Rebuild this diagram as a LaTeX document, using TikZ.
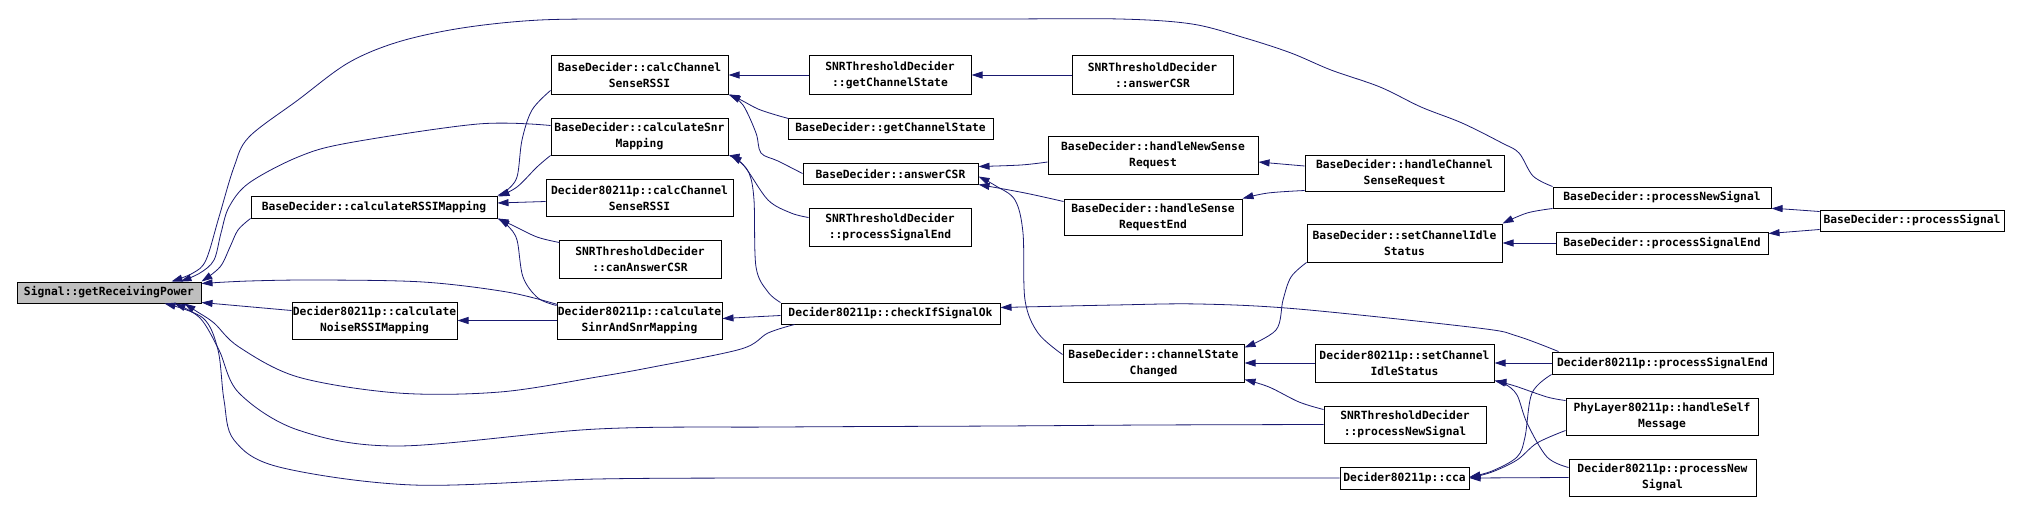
\documentclass[tikz,border=0pt]{standalone}
\usepackage{fontspec}
\setmonofont{DejaVu Sans Mono}
\usetikzlibrary{arrows.meta,calc}
\definecolor{dblue}{HTML}{191970}
\definecolor{sgray}{HTML}{BFBFBF}
\newcommand\bx[7][white]{%
  \pgfmathsetmacro\bxw{#5-#3}\pgfmathsetmacro\bxh{#6-#4}%
  \pgfmathsetmacro\bxcx{(#3+#5)/2}\pgfmathsetmacro\bxcy{(#4+#6)/2}%
  \node[box, fill=#1, text width=\bxw pt, minimum height=\bxh pt] (#2) at (\bxcx,\bxcy) {#7};}
\begin{document}
\begin{tikzpicture}[x=1pt,y=-1pt,
  box/.style={draw=black, line width=1pt, inner sep=0pt, align=center,
    font=\ttfamily\bfseries\fontsize{11.3}{16}\selectfont},
  edge/.style={draw=dblue, line width=0.8pt, -{Triangle[length=11pt,width=7pt]}},
  sm/.style={smooth, tension=0.55}]
\useasboundingbox (0,0) rectangle (2020,511);

\bx[sgray]{S}{17}{282}{201}{303}{Signal::getReceivingPower}
\bx{RSSI}{251}{196}{497}{218}{BaseDecider::calculateRSSIMapping}
\bx{Noise}{292}{302}{457}{339}{Decider80211p::calculate\\NoiseRSSIMapping}
\bx{CCS}{551}{56}{728}{94}{BaseDecider::calcChannel\\SenseRSSI}
\bx{CSM}{551}{118}{728}{155}{BaseDecider::calculateSnr\\Mapping}
\bx{DCCS}{546}{179}{733}{216}{Decider80211p::calcChannel\\SenseRSSI}
\bx{CAN}{559}{240}{721}{278}{SNRThresholdDecider\\::canAnswerCSR}
\bx{SINR}{557}{302}{722}{339}{Decider80211p::calculate\\SinrAndSnrMapping}
\bx{SGCS}{809}{56}{971}{94}{SNRThresholdDecider\\::getChannelState}
\bx{SACSR}{1072}{56}{1233}{94}{SNRThresholdDecider\\::answerCSR}
\bx{BGCS}{788}{118}{993}{139}{BaseDecider::getChannelState}
\bx{ACSR}{803}{163}{978}{184}{BaseDecider::answerCSR}
\bx{SPSE}{809}{208}{971}{246}{SNRThresholdDecider\\::processSignalEnd}
\bx{CHK}{781}{303}{1000}{324}{Decider80211p::checkIfSignalOk}
\bx{HNSR}{1048}{136}{1258}{174}{BaseDecider::handleNewSense\\Request}
\bx{HSRE}{1064}{199}{1242}{235}{BaseDecider::handleSense\\RequestEnd}
\bx{CSC}{1063}{344}{1244}{382}{BaseDecider::channelState\\Changed}
\bx{HCSR}{1305}{155}{1504}{191}{BaseDecider::handleChannel\\SenseRequest}
\bx{BSCIS}{1307}{224}{1502}{262}{BaseDecider::setChannelIdle\\Status}
\bx{DSCIS}{1315}{344}{1494}{382}{Decider80211p::setChannel\\IdleStatus}
\bx{SPNS}{1324}{406}{1486}{443}{SNRThresholdDecider\\::processNewSignal}
\bx{CCA}{1340}{467}{1469}{489}{Decider80211p::cca}
\bx{BPNS}{1553}{187}{1771}{208}{BaseDecider::processNewSignal}
\bx{BPSE}{1556}{232}{1768}{254}{BaseDecider::processSignalEnd}
\bx{DPSE}{1552}{352}{1773}{374}{Decider80211p::processSignalEnd}
\bx{PHY}{1566}{398}{1758}{435}{PhyLayer80211p::handleSelf\\Message}
\bx{DPNS}{1569}{459}{1756}{496}{Decider80211p::processNew\\Signal}
\bx{BPS}{1820}{210}{2004}{231}{BaseDecider::processSignal}

% edges into Signal::getReceivingPower
\draw[edge] plot[sm] coordinates {(BPNS.north west) (1533,176) (1519,153) (1502,143) (1462,123) (1421,107) (1380,87) (1331,70) (1291,53) (1245,38) (1192,24) (1120,19) (1000,19) (880,19) (760,19) (640,19) (540,20) (462,28) (398,42) (348,63) (298,100) (249,137) (234,167) (219,217) (206,260) (193,273) ($(S.north west)+(155,0)$)};
\draw[edge] plot[sm] coordinates {($(CSM.north west)+(0,8)$) (478,124) (348,143) (298,157) (249,183) (229,207) (221,233) (214,260) (200,273) ($(S.north west)+(164,0)$)};
\draw[edge] plot[sm] coordinates {(RSSI.south west) (238,230) (230,247) (220,267) (S.north east)};
\draw[edge] plot[sm] coordinates {($(SINR.north west)+(1,3)$) (507,292) (423,282) (318,280) (249,281) ($(S.north east)+(0,2)$)};
\draw[edge] ($(Noise.north west)+(0,9)$) -- ($(S.south east)+(0,-1)$);
\draw[edge] plot[sm] coordinates {($(CHK.south west)+(14,0)$) (768,333) (741,349) (653,367) (597,377) (500,392) (398,393) (298,377) (239,347) (214,323) (196,311) ($(S.south west)+(168,0)$)};
\draw[edge] plot[sm] coordinates {(SPNS.west) (1149,425) (1000,426) (780,427) (597,429) (398,446) (298,430) (239,393) (219,350) (200,318) ($(S.south west)+(158,0)$)};
\draw[edge] plot[sm] coordinates {(CCA.west) (1249,478) (1000,478) (780,478) (597,479) (413,485) (279,467) (234,440) (224,400) (218,350) (203,318) ($(S.south west)+(148,0)$)};

% into calculateRSSIMapping
\draw[edge] plot[sm] coordinates {($(CCS.south west)+(0,-4)$) (532,110) (522,140) (517,177) (506,191) (RSSI.north east)};
\draw[edge] plot[sm] coordinates {(CSM.south west) (537,167) (517,187) ($(RSSI.north east)+(1,1)$)};
\draw[edge] ($(DCCS.west)+(0,4)$) -- ($(RSSI.east)+(0,-4)$);
\draw[edge] plot[sm] coordinates {($(CAN.north west)+(1,3)$) (537,237) (512,225) (RSSI.south east)};
\draw[edge] plot[sm] coordinates {($(SINR.north west)+(0,4)$) (538,298) (523,277) (517,240) (508,226) ($(RSSI.south east)+(1,0)$)};

\draw[edge] (SINR.west) -- (Noise.east);
\draw[edge] ($(CHK.west)+(0,2)$) -- ($(SINR.east)+(0,-2)$);

% into calculateSnrMapping
\draw[edge] plot[sm] coordinates {(CHK.north west) (768,292) (756,267) (754,200) (749,173) (737,159) (CSM.south east)};
\draw[edge] plot[sm] coordinates {($(SPSE.north west)+(0,10)$) (791,213) (768,200) (745,167) ($(CSM.south east)+(2,0)$)};

% into calcChannelSenseRSSI
\draw[edge] (SGCS.west) -- (CCS.east);
\draw[edge] plot[sm] coordinates {($(BGCS.north west)+(1,1)$) (776,115) (758,109) (741,100) (CCS.south east)};
\draw[edge] plot[sm] coordinates {(ACSR.west) (778,161) (761,153) (756,133) (743,105) ($(CCS.south east)+(1,0)$)};

\draw[edge] (SACSR.west) -- (SGCS.east);

% into answerCSR
\draw[edge] plot[sm] coordinates {($(HNSR.west)+(0,7)$) (1021,165) ($(ACSR.north east)+(0,4)$)};
\draw[edge] plot[sm] coordinates {($(HSRE.north west)+(0,3)$) (1025,193) (ACSR.south east)};
\draw[edge] plot[sm] coordinates {($(CSC.north west)+(0,11)$) (1038,333) (1025,300) (1023,233) (1015,200) (996,186) ($(ACSR.east)+(0,3)$)};

\draw[edge] plot[sm] coordinates {($(HCSR.west)+(0,-7)$) ($(HNSR.east)+(0,7)$)};
\draw[edge] plot[sm] coordinates {($(HCSR.south west)+(0,-1)$) (1268,193) (HSRE.north east)};

\draw[edge] plot[sm] coordinates {($(DPSE.north west)+(7,0)$) (1517,336) (1478,328) (1298,309) (1199,304) (1115,305) ($(CHK.east)+(0,-6)$)};

% into channelStateChanged
\draw[edge] plot[sm] coordinates {(BSCIS.south west) (1291,277) (1283,300) (1276,330) ($(CSC.north east)+(0,4)$)};
\draw[edge] (DSCIS.west) -- (CSC.east);
\draw[edge] plot[sm] coordinates {($(SPNS.north west)+(0,4)$) (1299,402) (1269,387) ($(CSC.south east)+(0,-3)$)};

% BaseDecider::setChannelIdleStatus
\draw[edge] plot[sm] coordinates {(BPNS.south west) (1527,213) (BSCIS.north east)};
\draw[edge] (BPSE.west) -- (BSCIS.east);
\draw[edge] plot[sm] coordinates {($(BPS.north west)+(0,2)$) (1784,209) (BPNS.south east)};
\draw[edge] plot[sm] coordinates {($(BPS.south west)+(0,-2)$) (1788,232) ($(BPSE.north east)+(0,2)$)};

% Decider80211p::setChannelIdleStatus
\draw[edge] (DPSE.west) -- (DSCIS.east);
\draw[edge] plot[sm] coordinates {($(PHY.north west)+(0,3)$) (1547,397) (1515,386) ($(DSCIS.south east)+(0,-2)$)};
\draw[edge] plot[sm] coordinates {($(DPNS.north west)+(0,9)$) (1547,457) (1527,423) (1517,395) (1505,384) ($(DSCIS.south east)+(1,-1)$)};

% Decider80211p::cca
\draw[edge] plot[sm] coordinates {(DPSE.south west) (1532,393) (1525,437) (1517,457) (1492,471) ($(CCA.east)+(0,-1)$)};
\draw[edge] plot[sm] coordinates {($(PHY.south west)+(0,-5)$) (1537,443) (1517,460) (1492,472) (CCA.east)};
\draw[edge] (DPNS.west) -- (CCA.east);
\end{tikzpicture}
\end{document}
